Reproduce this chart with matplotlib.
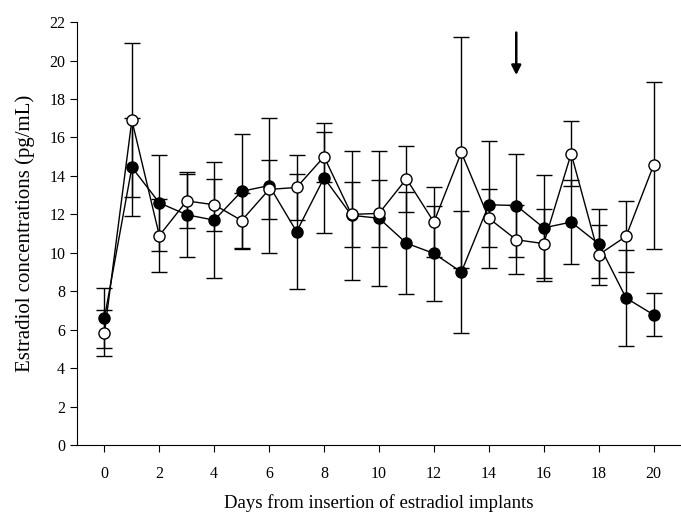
import matplotlib.pyplot as plt

plt.rcParams['font.family'] = ['Liberation Serif', 'DejaVu Serif']

days = list(range(0, 21))

# filled circles
filled_mean = [6.6, 14.45, 12.6, 11.98, 11.7, 13.2, 13.5, 11.1, 13.9, 11.95, 11.8,
               10.5, 9.97, 9.0, 12.5, 12.46, 11.3, 11.6, 10.47, 7.65, 6.78]
filled_err = [1.55, 2.55, 2.5, 2.2, 3.0, 3.0, 3.5, 3.0, 2.85, 3.36, 3.5,
              2.65, 2.45, 3.17, 3.3, 2.7, 2.75, 2.2, 1.8, 2.5, 1.12]

# open circles
open_mean = [5.83, 16.9, 10.9, 12.7, 12.5, 11.68, 13.3, 13.4, 15.0, 12.0, 12.05,
             13.85, 11.6, 15.22, 11.8, 10.68, 10.48, 15.16, 9.9, 10.86, 14.55]
open_err = [1.2, 4.0, 1.9, 1.4, 1.35, 1.45, 1.55, 1.7, 1.3, 1.7, 1.75,
            1.73, 1.8, 6.0, 1.5, 1.8, 1.8, 1.7, 1.55, 1.85, 4.35]

fig = plt.figure(figsize=(6.81, 5.14), dpi=100)
ax = fig.add_axes([0.113, 0.134, 0.887, 0.823])

ax.errorbar(days, filled_mean, yerr=filled_err, fmt='-o', color='black',
            mfc='black', mec='black', ms=8, lw=1, elinewidth=1, capsize=6, capthick=1)
ax.errorbar(days, open_mean, yerr=open_err, fmt='-o', color='black',
            mfc='white', mec='black', ms=8, lw=1, elinewidth=1, capsize=6, capthick=1)

# arrow marking day 15
ax.annotate('', xy=(15, 19.1), xytext=(15, 21.6),
            arrowprops=dict(arrowstyle='-|>', color='black', lw=1.8, mutation_scale=14))

ax.set_xlim(-1, 21)
ax.set_ylim(0, 22)
ax.set_xticks(range(0, 21, 2))
ax.set_yticks(range(0, 23, 2))
ax.spines['top'].set_visible(False)
ax.spines['right'].set_visible(False)
ax.tick_params(direction='out', length=5, labelsize=11.5)
ax.tick_params(axis='x', pad=10)
ax.set_xlabel('Days from insertion of estradiol implants', fontsize=13.5, labelpad=9)
ax.set_ylabel('Estradiol concentrations (pg/mL)', fontsize=15, labelpad=10)

fig.savefig('out.png', dpi=100)
